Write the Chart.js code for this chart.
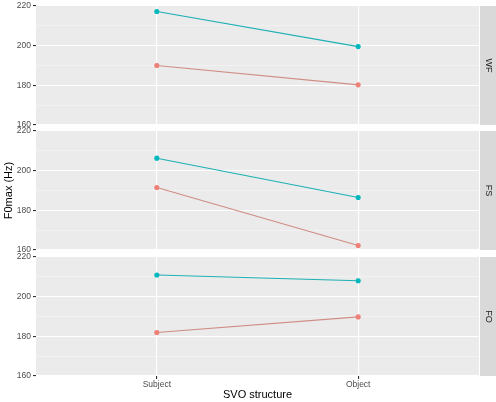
<!DOCTYPE html>
<html>
<head>
<meta charset="utf-8">
<script src="https://cdn.jsdelivr.net/npm/chart.js@4/dist/chart.umd.min.js"></script>
<style>
  html, body { margin: 0; padding: 0; background: #ffffff; }
  #wrap { position: relative; width: 496px; height: 402px; overflow: hidden; }
  canvas { position: absolute; left: 0; }
</style>
</head>
<body>
<div id="wrap">
  <canvas id="c1" style="top:0px"></canvas>
  <canvas id="c2" style="top:120px"></canvas>
  <canvas id="c3" style="top:246px"></canvas>
</div>
<script>
// ---- data ----
const categories = ['Subject', 'Object'];
const panels = ['WF', 'FS', 'FO'];
const seriesCyan = {            // higher series (teal)
  WF: [217.2, 199.5],
  FS: [206.3, 186.5],
  FO: [210.9, 208.0]
};
const seriesRed = {             // lower series (salmon)
  WF: [190.0, 180.2],
  FS: [191.5, 162.3],
  FO: [181.9, 189.8]
};
const yTicks = [160, 180, 200, 220];
const yLabel = 'F0max (Hz)';
const xLabel = 'SVO structure';

// ---- chart construction ----
const panelBg = {
  id: 'panelBg',
  beforeDraw(chart) {
    const { ctx, chartArea: a } = chart;
    ctx.save();
    ctx.fillStyle = '#EBEBEB';
    ctx.fillRect(a.left, a.top, a.right - a.left, a.bottom - a.top);
    // strip
    ctx.fillStyle = '#D9D9D9';
    ctx.fillRect(a.right + 1, a.top, 17, a.bottom - a.top);
    const lab = chart.options.plugins.strip.label;
    ctx.translate(a.right + 1 + 8.5, (a.top + a.bottom) / 2);
    ctx.rotate(Math.PI / 2);
    ctx.fillStyle = '#1A1A1A';
    ctx.font = '9px "Liberation Sans", Arial, sans-serif';
    ctx.textAlign = 'center';
    ctx.textBaseline = 'middle';
    ctx.fillText(lab, 0, 0);
    ctx.restore();
  }
};

function makeChart(id, panel, opts) {
  const el = document.getElementById(id);
  el.width = 496; el.height = opts.h;
  el.style.width = '496px'; el.style.height = opts.h + 'px';
  const toPts = arr => arr.map((v, i) => ({ x: i + 1, y: v }));
  return new Chart(el, {
    type: 'line',
    data: {
      datasets: [
        {
          data: toPts(seriesRed[panel]),
          borderColor: '#CF8D84',
          backgroundColor: '#F0827A',
          pointBackgroundColor: '#EE8077',
          pointBorderColor: '#EE8077',
          borderWidth: 1.1,
          pointRadius: 2,
          pointHoverRadius: 2,
          tension: 0
        },
        {
          data: toPts(seriesCyan[panel]),
          borderColor: '#1CB0B5',
          backgroundColor: '#00BFC4',
          pointBackgroundColor: '#00B8BD',
          pointBorderColor: '#00B8BD',
          borderWidth: 1.1,
          pointRadius: 2,
          pointHoverRadius: 2,
          tension: 0
        }
      ]
    },
    options: {
      responsive: false,
      animation: false,
      events: [],
      layout: { padding: { top: opts.padTop, bottom: opts.padBottom, left: 0, right: 17 } },
      plugins: {
        legend: { display: false },
        tooltip: { enabled: false },
        strip: { label: panel }
      },
      scales: {
        x: {
          type: 'linear',
          min: 0.4,
          max: 2.6,
          afterBuildTicks(scale) { scale.ticks = categories.map((c, i) => ({ value: i + 1 })); },
          afterFit(scale) { scale.height = opts.xh; scale.paddingLeft = 0; scale.paddingRight = 0; },
          border: { display: false },
          grid: {
            color: '#FFFFFF',
            lineWidth: 1.1,
            drawTicks: opts.showX,
            tickLength: 3,
            tickColor: '#333333'
          },
          ticks: {
            display: opts.showX,
            autoSkip: false,
            maxRotation: 0,
            padding: 1,
            color: '#4D4D4D',
            font: { family: '"Liberation Sans", Arial, sans-serif', size: 8.5 },
            callback: v => categories[v - 1]
          },
          title: {
            display: opts.showX,
            text: xLabel,
            color: '#000000',
            padding: { top: 0, bottom: 0 },
            font: { family: '"Liberation Sans", Arial, sans-serif', size: 11 }
          }
        },
        y: {
          type: 'linear',
          min: 160,
          max: 220,
          afterBuildTicks(scale) {
            const t = [];
            for (let v = 160; v <= 220; v += 10) t.push({ value: v });
            scale.ticks = t;
          },
          afterFit(scale) { scale.width = 36; scale.paddingTop = 0; scale.paddingBottom = 0; },
          border: { display: false },
          grid: {
            color: c => (yTicks.includes(c.tick.value) ? '#FFFFFF' : '#F6F6F6'),
            lineWidth: c => (yTicks.includes(c.tick.value) ? 1.1 : 0.6),
            drawTicks: true,
            tickLength: 3,
            tickColor: c => (yTicks.includes(c.tick.value) ? '#333333' : 'rgba(0,0,0,0)')
          },
          ticks: {
            autoSkip: false,
            padding: 2,
            color: '#4D4D4D',
            font: { family: '"Liberation Sans", Arial, sans-serif', size: 8.5 },
            callback: v => (yTicks.includes(v) ? String(v) : '')
          },
          title: {
            display: opts.showY,
            text: yLabel,
            color: '#000000',
            padding: { top: 2, bottom: 0 },
            font: { family: '"Liberation Sans", Arial, sans-serif', size: 11 }
          }
        }
      }
    },
    plugins: [panelBg]
  });
}

makeChart('c1', 'WF', { h: 128, padTop: 6, padBottom: 3, xh: 0, showX: false, showY: false });
makeChart('c2', 'FS', { h: 136, padTop: 11, padBottom: 6, xh: 0, showX: false, showY: true });
makeChart('c3', 'FO', { h: 156, padTop: 11, padBottom: 0, xh: 26, showX: true, showY: false });
</script>
</body>
</html>
